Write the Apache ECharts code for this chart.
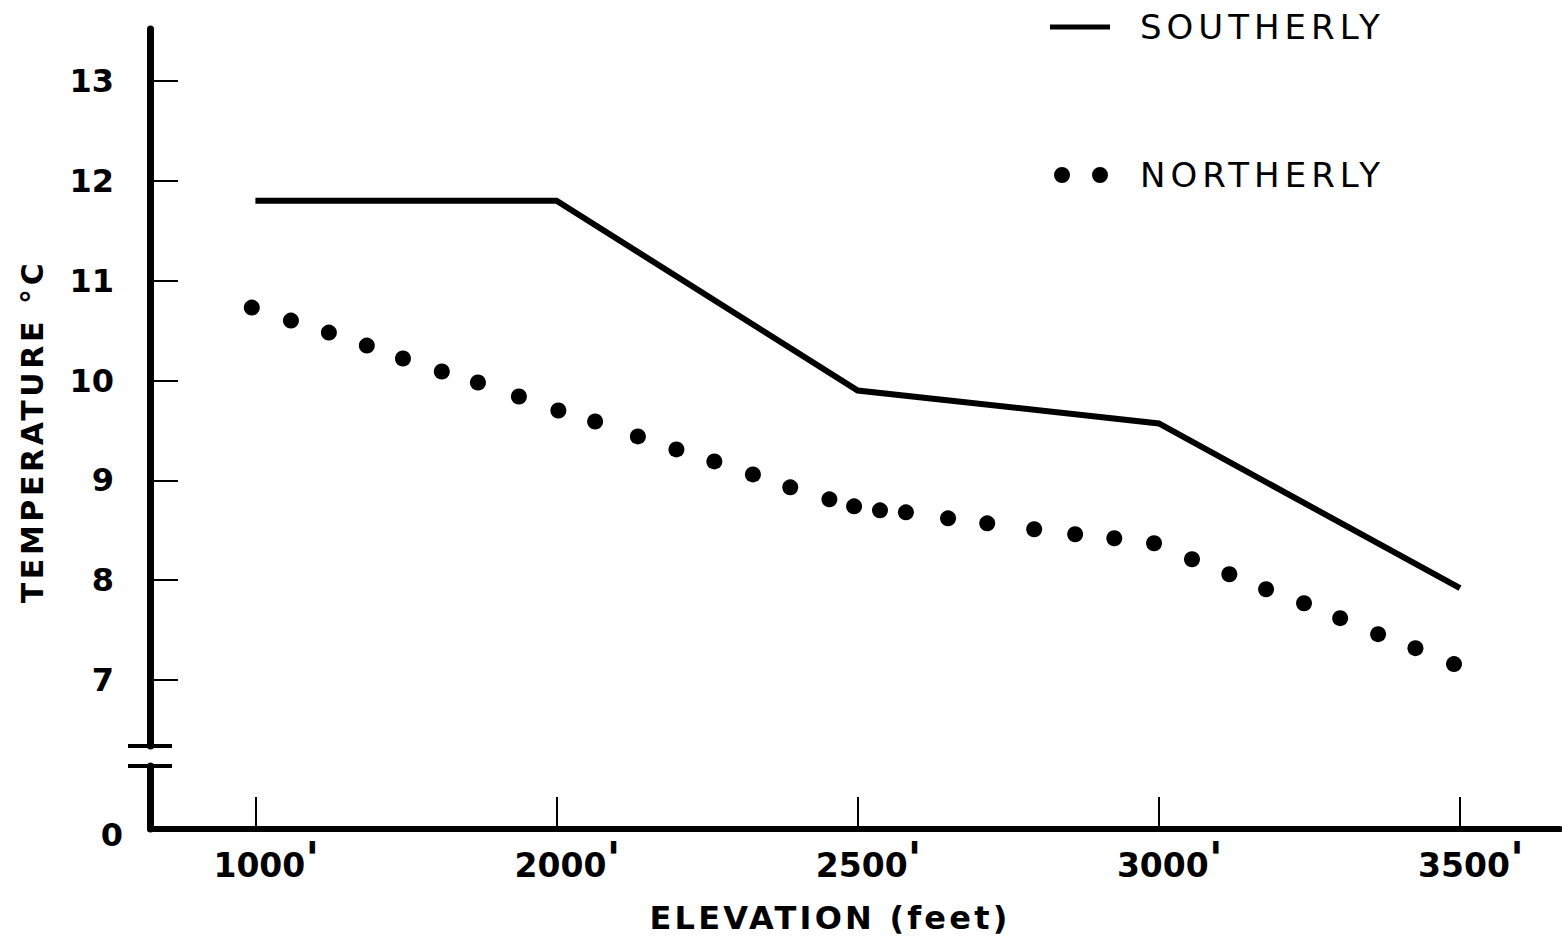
<!DOCTYPE html>
<html><head><meta charset="utf-8">
<script src="https://cdn.jsdelivr.net/npm/echarts@6/dist/echarts.min.js"></script>
<style>
html,body{margin:0;padding:0;background:#fff}
#c{width:1562px;height:943px}
/* letter-spaced lettering of the original (SVG text honours CSS letter-spacing) */
#c text[style*="lsA"], #c text[font-family*="lsA"], #c tspan[style*="lsA"] { letter-spacing: 5px; }
#c text[style*="lsB"], #c text[font-family*="lsB"], #c tspan[style*="lsB"] { letter-spacing: 3.6px; }
#c text[style*="lsC"], #c text[font-family*="lsC"], #c tspan[style*="lsC"] { letter-spacing: 3.2px; }
</style>
</head><body><div id="c"></div>
<script>
// ---- data ----
const categories = [1000, 2000, 2500, 3000, 3500];           // elevation (feet) of the tick marks
const xTickLabels = ['1000', '2000', '2500', '3000', '3500'];
const yTickValues = [7, 8, 9, 10, 11, 12, 13];
const southerlyTemp = [11.80, 11.80, 9.90, 9.57, 7.92];     // at each category
const northerlyElev = [988, 1118, 1244, 1370, 1490, 1619, 1739, 1875, 2003, 2064, 2135,
  2199, 2262, 2326, 2388, 2453, 2494, 2537, 2580, 2650, 2715, 2793, 2861, 2926, 2992,
  3055, 3117, 3178, 3241, 3301, 3364, 3426, 3490];
const northerlyTemp = [10.73, 10.60, 10.48, 10.35, 10.22, 10.09, 9.98, 9.84, 9.70, 9.59, 9.44,
  9.31, 9.19, 9.06, 8.93, 8.81, 8.74, 8.70, 8.68, 8.62, 8.57, 8.51, 8.46, 8.42, 8.37,
  8.21, 8.06, 7.91, 7.77, 7.62, 7.46, 7.32, 7.16];

// axis is evenly spaced per category (not linear in feet): map feet -> category position
function elevToPos(e) {
  for (let i = 0; i < categories.length - 1; i++) {
    if (e <= categories[i + 1] || i === categories.length - 2) {
      return i + (e - categories[i]) / (categories[i + 1] - categories[i]);
    }
  }
}

const X_MIN = -0.35, X_MAX = 4.332;
const Y_MIN = 6.34, Y_MAX = 13.52;
const FONT = 'DejaVu Sans';
const INK = '#000';

const chart = echarts.init(document.getElementById('c'), null, { renderer: 'svg' });
const breakTick = (inside, val) => ({
  show: true, inside: inside, length: 22, customValues: [val],
  lineStyle: { color: INK, width: 4 }
});
const hidden = { show: false };
const noZeroLine = (w) => ({ show: w > 0, onZero: false, lineStyle: { color: INK, width: Math.max(w, 1) } });

chart.setOption({
  animation: false,
  backgroundColor: '#fff',
  grid: [
    { left: 150, right: 2, top: 29, bottom: 197, outerBoundsMode: 'none', containLabel: false },
    { left: 150, right: 2, top: 766, bottom: 114, outerBoundsMode: 'none', containLabel: false }
  ],
  legend: [
    {
      data: [{ name: 'SOUTHERLY', icon: 'rect' }],
      left: 1050, top: 10, padding: 0, itemWidth: 60, itemHeight: 5, selectedMode: false,
      textStyle: { fontSize: 34, fontFamily: FONT + ', lsA', color: INK, padding: [0, 0, 0, 25] }
    },
    {
      data: [{ name: 'NORTHERLY',
        icon: 'path://M0,8a8,8 0 1,0 16,0a8,8 0 1,0 -16,0M38,8a8,8 0 1,0 16,0a8,8 0 1,0 -16,0' }],
      left: 1054, top: 158, padding: 0, itemWidth: 54, itemHeight: 16, selectedMode: false,
      textStyle: { fontSize: 34, fontFamily: FONT + ', lsA', color: INK, padding: [0, 0, 0, 27] }
    }
  ],
  xAxis: [
    { gridIndex: 0, type: 'value', min: X_MIN, max: X_MAX, show: false },
    {
      gridIndex: 1, type: 'value', min: X_MIN, max: X_MAX, position: 'bottom',
      axisLine: noZeroLine(6),
      axisTick: { inside: true, length: 32, customValues: categories.map((c, i) => i),
        lineStyle: { color: INK, width: 2 } },
      axisLabel: {
        customValues: categories.map((c, i) => i), margin: 7, hideOverlap: false,
        padding: [0, 0, 0, 22],
        formatter: v => '{n|' + xTickLabels[Math.round(v)] + '}{p|\'}',
        rich: {
          n: { fontSize: 33, fontWeight: 'bold', fontFamily: FONT, color: INK },
          p: { fontSize: 46, fontWeight: 'bold', fontFamily: FONT, color: INK, padding: [0, 0, 12, 0] }
        }
      },
      splitLine: hidden,
      name: 'ELEVATION (feet)', nameLocation: 'middle', nameGap: 73,
      nameTextStyle: { fontSize: 32, fontWeight: 'bold', fontFamily: FONT + ', lsC', color: INK, padding: [0, 50, 0, 0] }
    }
  ],
  yAxis: [
    {
      gridIndex: 0, type: 'value', min: Y_MIN, max: Y_MAX, position: 'left',
      axisLine: noZeroLine(7),
      axisTick: { show: true, inside: true, length: 28, customValues: yTickValues,
        lineStyle: { color: INK, width: 2 } },
      axisLabel: { customValues: yTickValues, margin: 36, fontSize: 32, fontWeight: 'bold',
        fontFamily: FONT, color: INK },
      splitLine: hidden,
      name: 'TEMPERATURE °C', nameLocation: 'middle', nameGap: 103,
      nameTextStyle: { fontSize: 30, fontWeight: 'bold', fontFamily: FONT + ', lsB', color: INK, padding: [0, 88, 0, 0] }
    },
    { gridIndex: 0, type: 'value', min: Y_MIN, max: Y_MAX, position: 'left',
      axisLine: noZeroLine(0), axisLabel: hidden, splitLine: hidden, axisTick: breakTick(true, Y_MIN) },
    { gridIndex: 0, type: 'value', min: Y_MIN, max: Y_MAX, position: 'left',
      axisLine: noZeroLine(0), axisLabel: hidden, splitLine: hidden, axisTick: breakTick(false, Y_MIN) },
    {
      gridIndex: 1, type: 'value', min: 0, max: 1, position: 'left',
      axisLine: noZeroLine(7),
      axisTick: breakTick(true, 1),
      axisLabel: { customValues: [0], margin: 27, fontSize: 32, fontWeight: 'bold',
        fontFamily: FONT, color: INK, verticalAlign: 'top', lineHeight: 12 },
      splitLine: hidden
    },
    { gridIndex: 1, type: 'value', min: 0, max: 1, position: 'left',
      axisLine: noZeroLine(0), axisLabel: hidden, splitLine: hidden, axisTick: breakTick(false, 1) }
  ],
  series: [
    {
      name: 'SOUTHERLY', type: 'line', xAxisIndex: 0, yAxisIndex: 0,
      data: southerlyTemp.map((t, i) => [elevToPos(categories[i]), t]),
      showSymbol: false, symbol: 'none', color: INK,
      lineStyle: { color: INK, width: 6, join: 'miter' }
    },
    {
      name: 'NORTHERLY', type: 'scatter', xAxisIndex: 0, yAxisIndex: 0,
      data: northerlyElev.map((e, i) => [elevToPos(e), northerlyTemp[i]]),
      symbol: 'circle', symbolSize: 16, color: INK, itemStyle: { color: INK, opacity: 1 }
    }
  ]
});
</script>
</body></html>
